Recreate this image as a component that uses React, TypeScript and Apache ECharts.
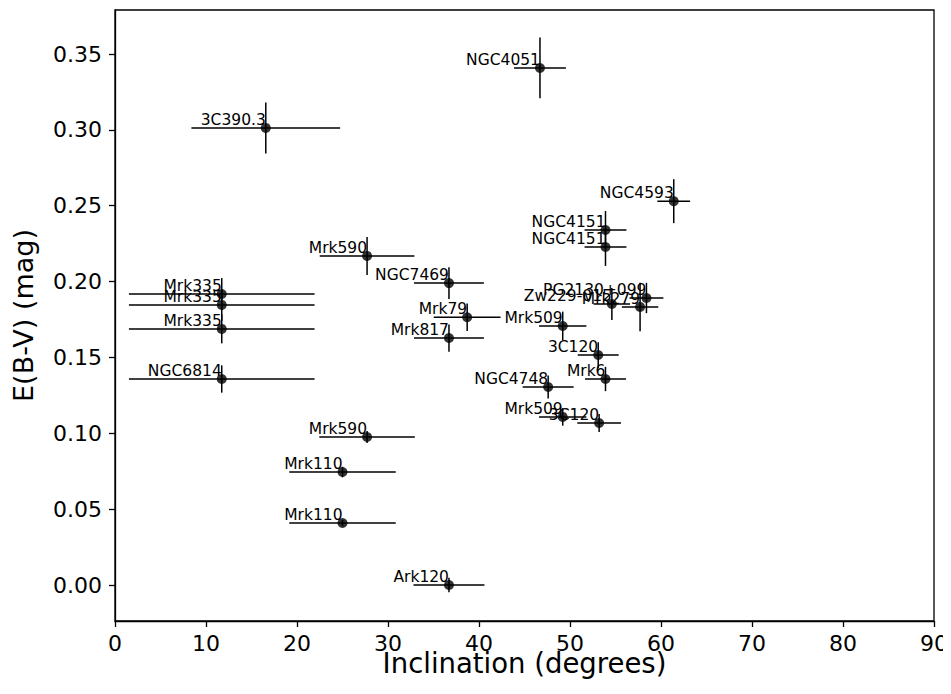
import React, { useEffect, useRef } from "react";
import * as echarts from "echarts";

const names = [
  "NGC4051", "3C390.3", "NGC4593", "NGC4151", "NGC4151", "Mrk590", "NGC7469",
  "Mrk79", "Mrk817", "Mrk335", "Mrk335", "Mrk335", "NGC6814", "PG2130+099",
  "Zw229-015", "Mrk279", "Mrk509", "3C120", "Mrk6", "NGC4748", "Mrk509",
  "3C120", "Mrk590", "Mrk110", "Mrk110", "Ark120",
];
const inclination = [
  46.7, 16.57, 61.4, 53.9, 53.9, 27.7, 36.7,
  38.7, 36.7, 11.73, 11.73, 11.73, 11.73, 58.4,
  54.6, 57.7, 49.2, 53.1, 53.9, 47.6, 49.2,
  53.2, 27.7, 25.0, 25.0, 36.7,
];
const ebv = [
  0.3408, 0.3013, 0.253, 0.234, 0.2228, 0.2169, 0.199,
  0.1765, 0.1628, 0.1918, 0.1846, 0.1688, 0.1358, 0.1892,
  0.1852, 0.1833, 0.1707, 0.1516, 0.1358, 0.1305, 0.1108,
  0.1068, 0.0976, 0.0745, 0.0409, 0.0,
];
const incErr = [
  2.85, 8.17, 1.8, 2.3, 2.3, 5.2, 3.84,
  3.67, 3.84, 10.2, 10.2, 10.2, 10.2, 1.86,
  2.0, 2.0, 2.6, 2.25, 2.25, 2.8, 2.6,
  2.4, 5.25, 5.85, 5.85, 3.9,
];
const ebvErr = [
  0.020, 0.0168, 0.0145, 0.0125, 0.0125, 0.0125, 0.0105,
  0.009, 0.009, 0.0105, 0.0105, 0.0095, 0.009, 0.010,
  0.0105, 0.016, 0.0095, 0.0085, 0.008, 0.0076, 0.0058,
  0.006, 0.004, 0.0035, 0.002, 0.0048,
];
const xTicks = [0, 10, 20, 30, 40, 50, 60, 70, 80, 90];
const yTicks = [0, 0.05, 0.1, 0.15, 0.2, 0.25, 0.3, 0.35];

const FONT = "DejaVu Sans";

export default function App() {
  const ref = useRef<HTMLDivElement>(null);
  useEffect(() => {
    if (!ref.current) return;
    const chart = echarts.init(ref.current, null, { renderer: "svg" });
    const rows = names.map((n, i) => [inclination[i], ebv[i], incErr[i], ebvErr[i], n]);
    chart.setOption({
      animation: false,
      backgroundColor: "#fff",
      grid: {
        left: 115, right: 15, top: 10, bottom: 73,
        show: true, borderColor: "#000", borderWidth: 1.3, backgroundColor: "transparent",
      },
      xAxis: {
        type: "value",
        min: 0, max: 90, interval: 10,
        name: "Inclination (degrees)",
        nameLocation: "middle",
        nameGap: 28,
        nameMoveOverlap: false,
        nameTextStyle: { fontFamily: FONT, fontSize: 27.5, color: "#000" },
        axisLine: { show: true, onZero: false, lineStyle: { color: "#000", width: 1.3 } },
        axisTick: { show: true, length: 6, inside: false, lineStyle: { color: "#000", width: 1.3 } },
        axisLabel: {
          show: true, margin: 11, fontFamily: FONT, fontSize: 22, color: "#000",
          customValues: xTicks,
        },
        splitLine: { show: false },
      },
      yAxis: {
        type: "value",
        min: -0.0237, max: 0.379,
        name: "E(B-V) (mag)",
        nameLocation: "middle",
        nameGap: 78,
        nameMoveOverlap: false,
        nameTextStyle: { fontFamily: FONT, fontSize: 27, color: "#000" },
        axisLine: { show: true, onZero: false, lineStyle: { color: "#000", width: 1.3 } },
        axisTick: {
          show: true, length: 6, inside: false, lineStyle: { color: "#000", width: 1.3 },
          customValues: yTicks,
        },
        axisLabel: {
          show: true, margin: 13, fontFamily: FONT, fontSize: 22, color: "#000",
          customValues: yTicks,
          formatter: (v: number) => v.toFixed(2),
        },
        splitLine: { show: false },
      },
      series: [
        {
          type: "custom",
          data: rows,
          encode: { x: 0, y: 1 },
          renderItem: (params: any, api: any) => {
            const x = api.value(0), y = api.value(1), xe = api.value(2), ye = api.value(3);
            const l = api.coord([x - xe, y]);
            const r = api.coord([x + xe, y]);
            const t = api.coord([x, y + ye]);
            const b = api.coord([x, y - ye]);
            const st = { stroke: "#000", lineWidth: 1.5 };
            return {
              type: "group",
              children: [
                { type: "line", shape: { x1: l[0], y1: l[1], x2: r[0], y2: r[1] }, style: st },
                { type: "line", shape: { x1: t[0], y1: t[1], x2: b[0], y2: b[1] }, style: st },
              ],
            };
          },
          z: 2,
        },
        {
          type: "scatter",
          data: rows.map((r) => [r[0], r[1]]),
          symbol: "circle",
          symbolSize: 10,
          itemStyle: { color: "#000" },
          z: 3,
        },
        {
          type: "custom",
          data: rows,
          encode: { x: 0, y: 1 },
          renderItem: (params: any, api: any) => {
            const p = api.coord([api.value(0), api.value(1)]);
            return {
              type: "text",
              x: p[0],
              y: p[1],
              style: {
                text: names[params.dataIndex],
                align: "right",
                verticalAlign: "bottom",
                fontFamily: FONT,
                fontSize: 15.5,
                fill: "#000",
              },
            };
          },
          z: 4,
        },
      ],
    });
    return () => chart.dispose();
  }, []);
  return <div ref={ref} style={{ width: 951, height: 694, margin: -8 }} />;
}
